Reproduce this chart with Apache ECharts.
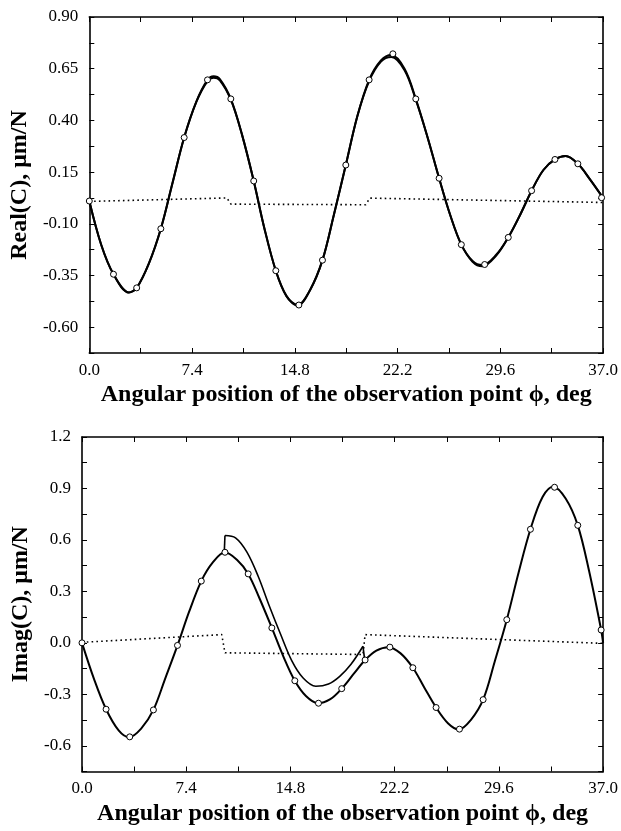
<!DOCTYPE html>
<html>
<head>
<meta charset="utf-8">
<script src="https://cdn.jsdelivr.net/npm/echarts@6/dist/echarts.min.js"></script>
<style>
  html, body { margin: 0; padding: 0; background: #fff; }
  #chart { width: 621px; height: 831px; }
</style>
</head>
<body>
<div id="chart"></div>
<script>
// ---- Real(C): solid curves (two nearly identical solutions)
const realX = [0, 0.85, 1.74, 2.85, 3.41, 4.3, 5.15, 6.0, 6.83, 7.7, 8.51, 8.95, 9.4, 10.19, 11.0, 11.84, 12.6, 13.43, 14.2, 15.0, 15.9, 16.79, 17.6, 18.47, 19.3, 20.15, 21.0, 21.75, 22.7, 23.51, 24.35, 25.19, 26.0, 26.79, 27.6, 28.3, 29.3, 30.17, 31.0, 31.85, 32.7, 33.53, 34.3, 35.18, 36.0, 37.0];
const realA = [0.01, -0.2, -0.344, -0.432, -0.41, -0.29, -0.124, 0.1, 0.317, 0.49, 0.596, 0.614, 0.6, 0.504, 0.33, 0.107, -0.12, -0.327, -0.45, -0.493, -0.42, -0.276, -0.06, 0.184, 0.42, 0.596, 0.69, 0.716, 0.65, 0.504, 0.32, 0.12, -0.06, -0.201, -0.28, -0.3, -0.25, -0.166, -0.06, 0.06, 0.16, 0.211, 0.228, 0.19, 0.12, 0.025];
const realB = [0.01, -0.2, -0.344, -0.432, -0.41, -0.29, -0.124, 0.1, 0.317, 0.488, 0.59, 0.606, 0.594, 0.5, 0.33, 0.107, -0.12, -0.327, -0.45, -0.496, -0.42, -0.276, -0.06, 0.184, 0.42, 0.59, 0.684, 0.706, 0.642, 0.5, 0.32, 0.12, -0.06, -0.201, -0.284, -0.306, -0.254, -0.166, -0.06, 0.06, 0.16, 0.211, 0.228, 0.19, 0.12, 0.025];
// circles
const realCircX = [0, 1.74, 3.41, 5.15, 6.83, 8.51, 10.19, 11.84, 13.43, 15.09, 16.79, 18.47, 20.15, 21.86, 23.51, 25.19, 26.79, 28.47, 30.17, 31.85, 33.53, 35.18, 36.89];
const realCircY = [0.01, -0.344, -0.41, -0.124, 0.317, 0.596, 0.504, 0.107, -0.327, -0.493, -0.276, 0.184, 0.596, 0.722, 0.504, 0.12, -0.201, -0.297, -0.166, 0.06, 0.211, 0.19, 0.026];
// dotted
const realDotX = [0, 9.9, 10.2, 19.9, 20.2, 37];
const realDotY = [0.008, 0.025, -0.005, -0.008, 0.024, 0.003];

// ---- Imag(C)
const imagX = [0, 0.85, 1.71, 2.6, 3.35, 4.2, 5.07, 5.9, 6.78, 7.6, 8.47, 9.3, 10.15, 11.0, 11.8, 12.6, 13.48, 14.3, 15.11, 15.9, 16.75, 17.6, 18.44, 19.3, 20.1, 20.9, 21.75, 22.6, 23.49, 24.3, 25.14, 26.0, 26.75, 27.6, 28.48, 29.3, 30.16, 31.0, 31.84, 32.7, 33.45, 34.35, 35.2, 36.0, 36.86, 37.0];
const imagLo = [0, -0.21, -0.387, -0.51, -0.55, -0.5, -0.391, -0.21, -0.015, 0.18, 0.36, 0.47, 0.528, 0.484, 0.402, 0.26, 0.087, -0.08, -0.221, -0.31, -0.352, -0.33, -0.267, -0.18, -0.1, -0.045, -0.025, -0.06, -0.145, -0.26, -0.377, -0.47, -0.505, -0.45, -0.331, -0.11, 0.135, 0.41, 0.662, 0.85, 0.91, 0.84, 0.685, 0.42, 0.075, 0.0];
// upper branch between the two jumps (first/last points sit on the lower curve)
const imagUpX = [10.1, 10.15, 10.9, 11.7, 12.5, 13.3, 14.1, 14.9, 15.7, 16.6, 17.5, 18.3, 19.1, 19.95, 20.07];
const imagUpY = [0.526, 0.626, 0.612, 0.53, 0.39, 0.215, 0.05, -0.105, -0.205, -0.253, -0.24, -0.195, -0.125, -0.02, -0.1];
const imagCircX = [0, 1.71, 3.39, 5.07, 6.78, 8.47, 10.15, 11.8, 13.48, 15.11, 16.79, 18.44, 20.1, 21.86, 23.49, 25.14, 26.8, 28.48, 30.16, 31.84, 33.55, 35.2, 36.86];
const imagCircY = [0, -0.387, -0.548, -0.391, -0.015, 0.36, 0.528, 0.402, 0.087, -0.221, -0.352, -0.267, -0.1, -0.025, -0.145, -0.377, -0.503, -0.331, 0.135, 0.662, 0.907, 0.685, 0.075];
const imagDotX = [0, 9.92, 10.15, 19.95, 20.1, 37];
const imagDotY = [0.003, 0.048, -0.058, -0.068, 0.048, -0.003];

const xTitle = 'Angular position of the observation point ϕ, deg';
const FONT = "'Liberation Serif', 'Times New Roman', serif";

const zip = (xs, ys) => xs.map((x, i) => [x, ys[i]]);
const onGrid = (v, base, step) => {
  const k = (v - base) / step;
  return Math.abs(k - Math.round(k)) < 1e-6;
};

const chart = echarts.init(document.getElementById('chart'));

const axisLine = { show: true, onZero: false, lineStyle: { color: '#000', width: 1.6 } };
const axisTick = { show: true, inside: true, length: 5, lineStyle: { color: '#000', width: 1 } };

function xAxes(gi) {
  const common = {
    type: 'value', gridIndex: gi, min: 0, max: 37, interval: 3.7,
    axisLine: axisLine, axisTick: axisTick, splitLine: { show: false }
  };
  return [
    Object.assign({}, common, {
      position: 'bottom',
      axisLabel: {
        color: '#000', fontFamily: FONT, fontSize: 17, margin: 9, hideOverlap: false,
        showMinLabel: true, showMaxLabel: true,
        formatter: v => onGrid(v, 0, 7.4) ? v.toFixed(1) : ''
      },
      name: xTitle, nameLocation: 'middle', nameGap: 30,
      nameTextStyle: { color: '#000', fontFamily: FONT, fontSize: 24, fontWeight: 'bold', verticalAlign: 'top' }
    }),
    Object.assign({}, common, { position: 'top', axisLabel: { show: false } })
  ];
}

function yAxes(gi, min, max, step, labBase, labStep, dec, title) {
  const common = {
    type: 'value', gridIndex: gi, min: min, max: max, interval: step,
    axisLine: axisLine, axisTick: axisTick, splitLine: { show: false }
  };
  return [
    Object.assign({}, common, {
      position: 'left',
      axisLabel: {
        color: '#000', fontFamily: FONT, fontSize: 17, margin: 11, hideOverlap: false,
        formatter: v => onGrid(v, labBase, labStep) ? v.toFixed(dec) : ''
      },
      name: title, nameLocation: 'middle', nameGap: 44, nameRotate: 90,
      nameTextStyle: { color: '#000', fontFamily: FONT, fontSize: 24, fontWeight: 'bold' }
    }),
    Object.assign({}, common, { position: 'right', axisLabel: { show: false } })
  ];
}

const solid = (name, xi, yi, data, w) => ({
  name, type: 'line', xAxisIndex: xi, yAxisIndex: yi, data,
  smooth: 0.35, showSymbol: false, silent: true, animation: false,
  lineStyle: { color: '#000', width: w }
});
const straight = (name, xi, yi, data, w) => ({
  name, type: 'line', xAxisIndex: xi, yAxisIndex: yi, data,
  smooth: false, showSymbol: false, silent: true, animation: false,
  lineStyle: { color: '#000', width: w }
});
const dotted = (name, xi, yi, data) => ({
  name, type: 'line', xAxisIndex: xi, yAxisIndex: yi, data,
  showSymbol: false, silent: true, animation: false,
  lineStyle: { color: '#000', width: 1.6, type: [1.6, 3.2] }
});
const circles = (name, xi, yi, data) => ({
  name, type: 'scatter', xAxisIndex: xi, yAxisIndex: yi, data,
  symbol: 'circle', symbolSize: 6, z: 5, silent: true, animation: false,
  itemStyle: { color: '#fff', borderColor: '#000', borderWidth: 1, opacity: 1 }
});

const upMid = zip(imagUpX.slice(1, -1), imagUpY.slice(1, -1));
const upJump1 = zip(imagUpX.slice(0, 2), imagUpY.slice(0, 2));
const upJump2 = zip(imagUpX.slice(-2), imagUpY.slice(-2));

chart.setOption({
  backgroundColor: '#fff',
  animation: false,
  grid: [
    { left: 85, top: 17, width: 523, height: 336 },
    { left: 82, top: 437, width: 523.5, height: 334.5 }
  ],
  xAxis: [].concat(xAxes(0), xAxes(1)),
  yAxis: [].concat(
    yAxes(0, -0.725, 0.9, 0.125, -0.6, 0.25, 2, 'Real(C), μm/N'),
    yAxes(1, -0.75, 1.2, 0.15, -0.6, 0.3, 1, 'Imag(C), μm/N')
  ),
  series: [
    dotted('realDot', 0, 0, zip(realDotX, realDotY)),
    solid('realA', 0, 0, zip(realX, realA), 2),
    solid('realB', 0, 0, zip(realX, realB), 2),
    circles('realPts', 0, 0, zip(realCircX, realCircY)),

    dotted('imagDot', 2, 2, zip(imagDotX, imagDotY)),
    solid('imagLo', 2, 2, zip(imagX, imagLo), 2),
    solid('imagUp', 2, 2, upMid, 1.6),
    straight('imagJump1', 2, 2, upJump1, 1.6),
    straight('imagJump2', 2, 2, upJump2, 1.6),
    circles('imagPts', 2, 2, zip(imagCircX, imagCircY))
  ]
});
</script>
</body>
</html>
